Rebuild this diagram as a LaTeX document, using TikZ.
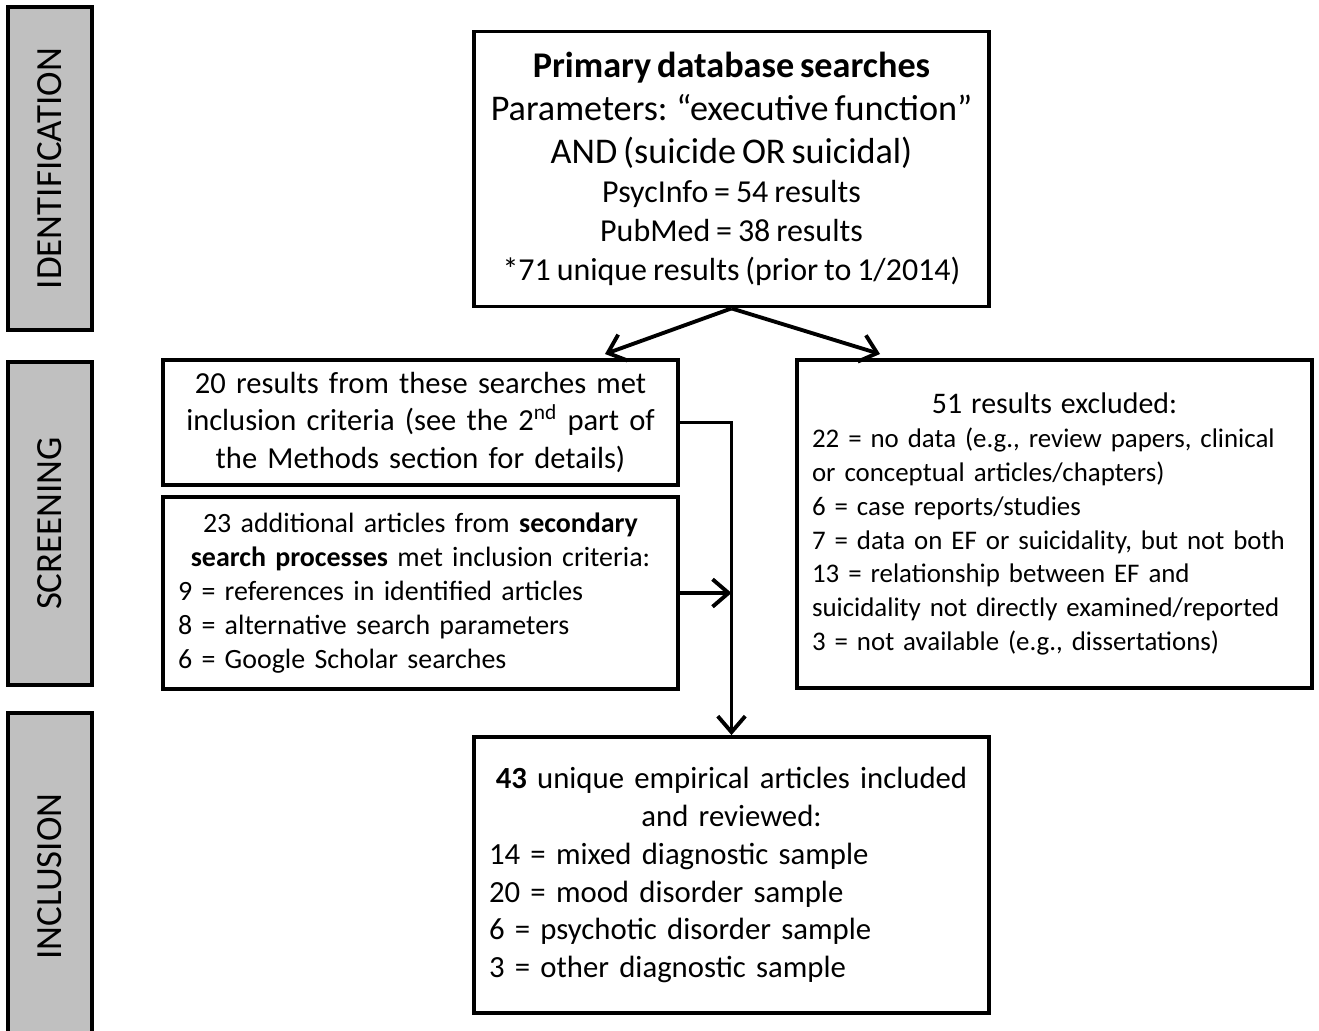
\documentclass[tikz,border=0pt]{standalone}
\usepackage{fontspec}
\setmainfont{Carlito}
\usetikzlibrary{arrows.meta, positioning}

\definecolor{phasegray}{RGB}{192,192,192}
\newcommand{\midline}[1]{\leavevmode\hbox to \hsize{\hss #1\hss}}
\newcommand{\tightsp}{\spaceskip=0.15em plus 0.05em minus 0.03em}

\tikzset{
  box/.style={draw, line width=2.2pt, minimum width=10.3cm, inner xsep=0.3cm,
    text width=9.7cm, align=left},
  phase/.style={draw, line width=2.2pt, fill=phasegray, rotate=90,
    minimum width=6.46cm, minimum height=1.68cm,
    font=\fontsize{21}{24}\selectfont}
}

\begin{document}
\begin{tikzpicture}[x=0.02cm, y=-0.02cm, >={Straight Barb[length=3.2mm, width=5.5mm]}, line width=2.2pt]
    \useasboundingbox (0,0) rectangle (1319,1031);

    % Phases
    \node[phase] (ident) at (50,168.5) {IDENTIFICATION};
    \node[phase] (screen) at (50,523.5) {SCREENING};
    \node[phase, minimum width=6.54cm] (inclph) at (50,876.5) {INCLUSION};

    % Boxes
    \node[box, align=center, minimum height=5.5cm] (prim) at (731.5,169)
      {{\fontsize{20.6}{24.5}\selectfont\textbf{Primary database searches}\\
        Parameters: “executive function”\\
        AND (suicide OR suicidal)\par}
       {\fontsize{18.2}{22.2}\selectfont PsycInfo = 54 results\\
        PubMed = 38 results\\
        {*}71 unique results (prior to 1/2014)\par}};
    \node[box, align=center, minimum height=2.5cm,
      font=\fontsize{17.4}{21.6}\selectfont] (res) at (420.5,422.5)
      {20 results from these searches met\\
       inclusion criteria (see the 2\textsuperscript{nd} part of\\
       the Methods section for details)};
    \node[box, minimum height=3.84cm,
      font=\fontsize{15.9}{19.4}\selectfont\tightsp] (sec) at (420.5,593)
      {\midline{23 additional articles from \textbf{secondary}}\\
       \midline{\textbf{search processes} met inclusion criteria:}\\
       9 = references in identified articles\\
       8 = alternative search parameters\\
       6 = Google Scholar searches};
    \node[box, minimum height=6.56cm,
      font=\fontsize{15.3}{19.3}\selectfont\tightsp] (excl) at (1054.5,524)
      {\midline{\fontsize{17}{19.3}\selectfont 51 results excluded:}\\
       22 = no data (e.g., review papers, clinical\\
       or conceptual articles/chapters)\\
       6 = case reports/studies\\
       7 = data on EF or suicidality, but not both\\
       13 = relationship between EF and\\
       suicidality not directly examined/reported\\
       3 = not available (e.g., dissertations)};
    \node[box, minimum height=5.52cm,
      font=\fontsize{17.5}{21.6}\selectfont] (incl) at (731.5,875)
      {\midline{\textbf{43} unique empirical articles included}\\
       \midline{and reviewed:}\\
       14 = mixed diagnostic sample\\
       20 = mood disorder sample\\
       6 = psychotic disorder sample\\
       3 = other diagnostic sample};

    % Connectors
    \coordinate (toRes) at (605,354);
    \coordinate (toExcl) at (880,354);
    \draw[->] (prim.south) -- (toRes);
    \draw[->] (prim.south) -- (toExcl);
    \draw[->] (res.east) -- (res.east -| incl.north) -- (incl.north);
    \draw[->] (sec.east) -- (sec.east -| incl.north);
\end{tikzpicture}
\end{document}
